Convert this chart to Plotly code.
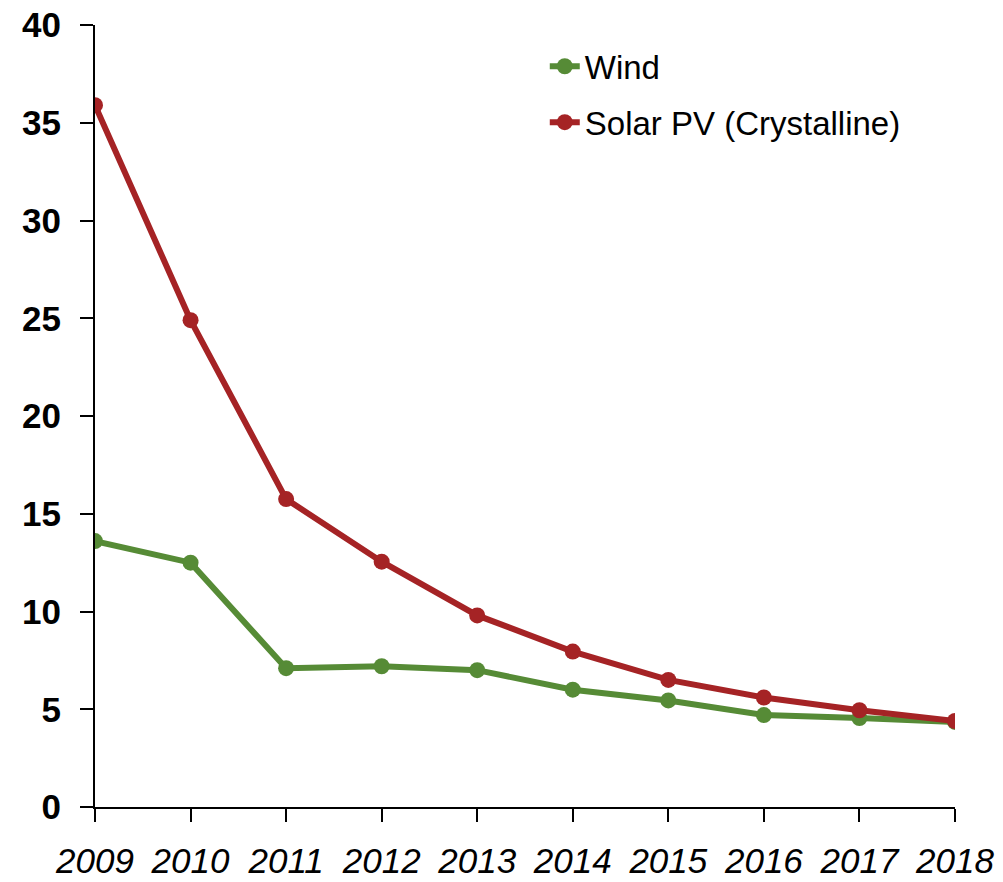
import plotly.graph_objects as go

years = ["2009", "2010", "2011", "2012", "2013", "2014", "2015", "2016", "2017", "2018"]
wind = [13.6, 12.5, 7.1, 7.2, 7.0, 6.0, 5.45, 4.7, 4.55, 4.35]
solar = [35.9, 24.9, 15.75, 12.55, 9.8, 7.95, 6.5, 5.6, 4.95, 4.4]
yticks = [0, 5, 10, 15, 20, 25, 30, 35, 40]

green = "#568b36"
red = "#a52325"

fig = go.Figure()
fig.add_trace(go.Scatter(x=list(range(len(years))), y=wind, name="Wind", mode="lines+markers",
                         line=dict(color=green, width=6), marker=dict(size=16, color=green),
                         legendgroup="a"))
fig.add_trace(go.Scatter(x=list(range(len(years))), y=solar, name="Solar PV (Crystalline)", mode="lines+markers",
                         line=dict(color=red, width=6), marker=dict(size=16, color=red),
                         legendgroup="b"))

fig.update_layout(
    width=995, height=874,
    margin=dict(l=87, r=48, t=17, b=75, autoexpand=False),
    plot_bgcolor="white", paper_bgcolor="white",
    font=dict(family="Liberation Sans, Arial", color="black"),
    showlegend=True,
    legend=dict(x=0.523, y=0.983, xanchor="left", yanchor="top",
                font=dict(size=33, color="black"), tracegroupgap=10,
                bgcolor="rgba(0,0,0,0)"),
    xaxis=dict(range=[0, len(years) - 1], tickmode="array", tickvals=list(range(len(years))),
               ticktext=years, showgrid=False, zeroline=False, automargin=False,
               ticklabeloverflow="allow",
               showline=True, linecolor="black", linewidth=2,
               ticks="outside", ticklen=13, tickwidth=2, tickcolor="black",
               ticklabelstandoff=9,
               tickfont=dict(size=35, style="italic", color="black")),
    yaxis=dict(range=[0, 40], tickmode="array", tickvals=yticks, showgrid=False, zeroline=False,
               showline=True, linecolor="black", linewidth=2, automargin=False,
               ticklabeloverflow="allow",
               ticks="outside", ticklen=13, tickwidth=2, tickcolor="black",
               ticklabelstandoff=12,
               tickfont=dict(size=35, weight="bold", color="black")),
)

fig.write_html("out.html")
